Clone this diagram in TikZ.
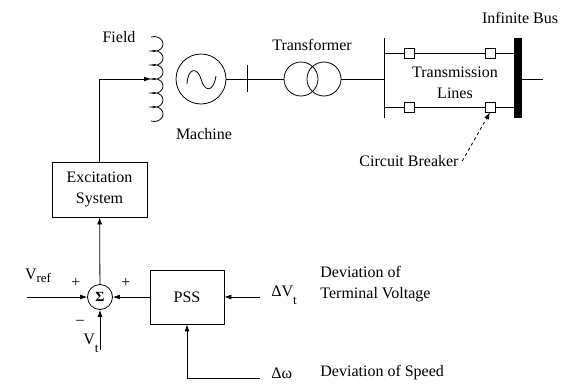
\documentclass[tikz,border=0pt]{standalone}
\usepackage{fontspec}
\setmainfont{LiberationSerif}[Extension=.ttf,UprightFont=*-Regular,BoldFont=*-Bold,Ligatures=TeX]
\usetikzlibrary{arrows.meta}

\newcommand{\lowsub}[2][-5pt]{\raisebox{#1}{\fontsize{13}{13}\selectfont #2}}

\begin{document}
\begin{tikzpicture}[x=1pt,y=-1pt,line width=0.8pt,
	every node/.style={font=\fontsize{16}{21}\selectfont},
	block/.style={draw,minimum width=95pt,minimum height=55pt,align=center,inner sep=0pt},
	sumnode/.style={draw,circle,minimum size=25pt,inner sep=0pt},
	ring/.style={draw,circle,inner sep=0pt},
	brk/.style={draw,fill=white,minimum size=10pt,inner sep=0pt},
	sig/.style={-{Latex[length=7pt,width=5pt]}}]
\useasboundingbox (0,0) rectangle (564,383);

% machine and field winding
\node[ring,minimum size=50pt] (mach) at (201,79) {};
\node (machlbl) at (204,134) {Machine};
\node (fieldlbl) at (119,37) {Field};
\coordinate (coiltop) at (151,37);
\coordinate (coilin) at (151,79);
\draw (coiltop) \foreach \k in {1,...,6} {arc[start angle=110,end angle=-110,x radius=9pt,y radius=7.45pt]};
\draw (187,84) .. controls (188,66) and (198,68) .. (201,79) .. controls (204,91) and (213,94) .. (216,76);

% transformer
\node[ring,minimum size=34pt] (tra) at (301,79) {};
\node[ring,minimum size=34pt] (trb) at (324,79) {};
\node (tralbl) at (312,45) {Transformer};
\coordinate (ticktop) at (247,65);
\coordinate (tickbot) at (247,92);
\draw (mach.east) -- (tra.west);
\draw (ticktop) -- (tickbot);

% lines to infinite bus
\coordinate (bustop) at (384,38);
\coordinate (busbot) at (384,118);
\coordinate (busmid) at (384,79);
\coordinate (ibout) at (543,79);
\node[brk] (cb1) at (409,53) {};
\node[brk] (cb2) at (490,53) {};
\node[brk] (cb3) at (409,107) {};
\node[brk] (cb4) at (490,107) {};
\node[fill,minimum width=8pt,minimum height=80pt,inner sep=0pt] (ibus) at (518,78) {};
\draw (trb.east) -- (busmid);
\draw (bustop) -- (busbot);
\draw (cb1 -| bustop) -- (cb1) -- (cb2) -- (cb2 -| ibus.west);
\draw (cb3 -| bustop) -- (cb3) -- (cb4) -- (cb4 -| ibus.west);
\draw (ibus.east |- busmid) -- (ibout);
\node[align=center] (tllbl) at (455,83) {Transmission\\Lines};
\node (iblbl) at (520,18) {Infinite Bus};
\node (cblbl) at (409,161) {Circuit Breaker};
\draw[sig,dashed] (cblbl.east) -- (cb4.south);

% control loop
\node[block] (exc) at (99.5,189.5) {Excitation\\System};
\node[sumnode] (sum) at (100,297) {\fontsize{14}{14}\selectfont\bfseries Σ};
\node[block,minimum width=74pt,minimum height=54pt] (pss) at (187,297) {PSS};
\coordinate (vref) at (27,297);
\coordinate (vt) at (100,350);
\coordinate (dvt) at (260,297);
\coordinate (dw) at (260,378);
\draw[sig] (vref) -- (sum);
\draw[sig] (vt) -- (sum);
\draw[sig] (pss) -- (sum);
\draw[sig] (sum) -- (exc);
\draw[sig] (dvt) -- (pss);
\draw[sig] (dw) -| (pss);
\draw[sig] (exc) |- (coilin);

\node (vreflbl) at (38,276) {V\lowsub[-3pt]{ref}};
\node (plusa) at (76,283) {+};
\node (plusb) at (126,283) {+};
\node (minus) at (80,322) {--};
\node (vtlbl) at (91,343) {V\lowsub[-8pt]{t}};
\node[anchor=west,inner sep=0pt] (dvtlbl) at (271,295) {ΔV\lowsub[-8pt]{t}};
\node[anchor=west,align=left,inner sep=0pt] (dvttxt) at (320,284) {Deviation of\\Terminal Voltage};
\node[anchor=west,inner sep=0pt] (dwlbl) at (271,373) {Δω};
\node[anchor=west,inner sep=0pt] (dwtxt) at (320,373) {Deviation of Speed};
\end{tikzpicture}
\end{document}
